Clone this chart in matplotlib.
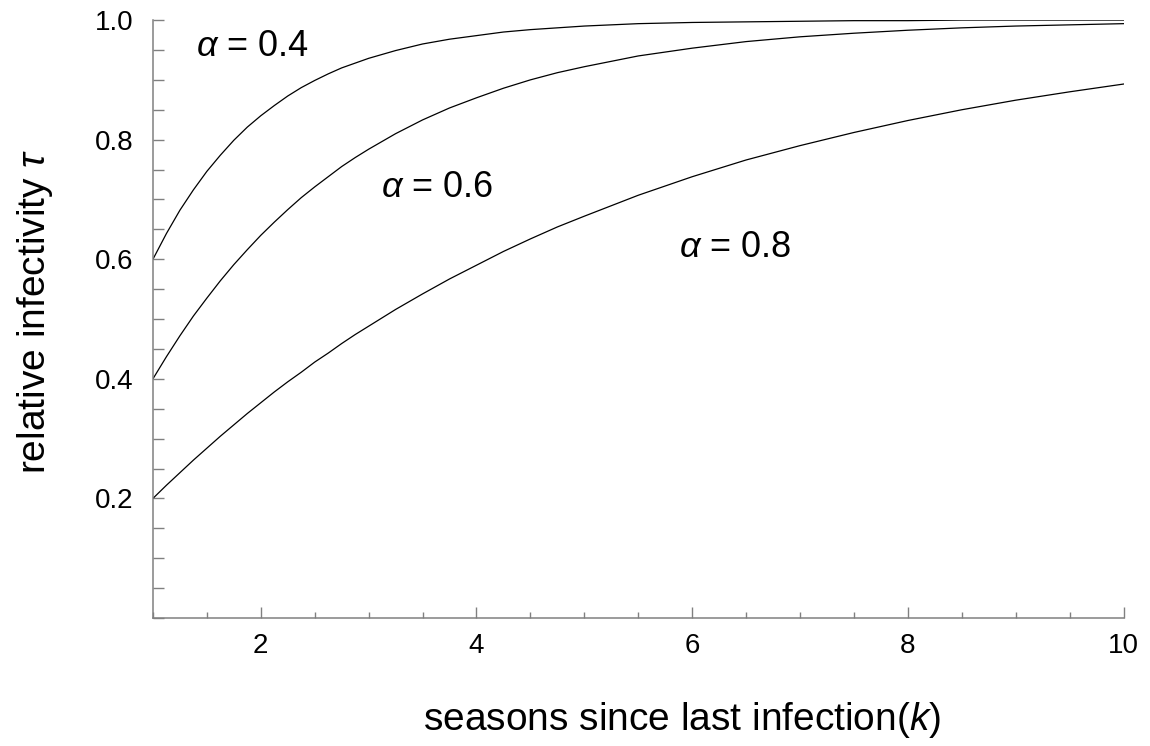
import numpy as np
import matplotlib.pyplot as plt
from matplotlib.ticker import MultipleLocator

plt.rcParams['font.family'] = ['Liberation Sans', 'DejaVu Sans']
plt.rcParams['mathtext.fontset'] = 'custom'
plt.rcParams['mathtext.rm'] = 'Liberation Sans'
plt.rcParams['mathtext.it'] = 'Liberation Sans:italic'

# seasons since last infection (denser where the curves bend most)
k = [1, 1.125, 1.25, 1.375, 1.5, 1.625, 1.75, 1.875, 2, 2.125, 2.25, 2.375,
     2.5, 2.625, 2.75, 2.875, 3, 3.25, 3.5, 3.75, 4, 4.25, 4.5, 4.75, 5,
     5.5, 6, 6.5, 7, 7.5, 8, 8.5, 9, 9.5, 10]

# relative infectivity for each alpha
tau_04 = [0.600, 0.643, 0.682, 0.716, 0.747, 0.774, 0.799, 0.821, 0.840,
          0.857, 0.873, 0.887, 0.899, 0.910, 0.920, 0.928, 0.936, 0.949,
          0.960, 0.968, 0.974, 0.980, 0.984, 0.987, 0.990, 0.994, 0.996,
          0.997, 0.998, 0.999, 0.999, 1.000, 1.000, 1.000, 1.000]
tau_06 = [0.400, 0.437, 0.472, 0.505, 0.535, 0.564, 0.591, 0.616, 0.640,
          0.662, 0.683, 0.703, 0.721, 0.738, 0.755, 0.770, 0.784, 0.810,
          0.833, 0.853, 0.870, 0.886, 0.900, 0.912, 0.922, 0.940, 0.953,
          0.964, 0.972, 0.978, 0.983, 0.987, 0.990, 0.992, 0.994]
tau_08 = [0.200, 0.222, 0.243, 0.264, 0.284, 0.304, 0.323, 0.342, 0.360,
          0.378, 0.395, 0.411, 0.428, 0.443, 0.459, 0.474, 0.488, 0.516,
          0.542, 0.567, 0.590, 0.613, 0.634, 0.654, 0.672, 0.707, 0.738,
          0.766, 0.790, 0.812, 0.832, 0.850, 0.866, 0.880, 0.893]

fig = plt.figure(figsize=(11.5, 7.46), dpi=100)
ax = fig.add_axes([0.133, 0.1716, 0.844, 0.8015])

for tau in (tau_04, tau_06, tau_08):
    ax.plot(k, tau, color='black', lw=0.9)

ax.text(1.92, 0.955, r'$\alpha$ = 0.4', fontsize=26, ha='center', va='center')
ax.text(3.64, 0.72, r'$\alpha$ = 0.6', fontsize=26, ha='center', va='center')
ax.text(6.40, 0.62, r'$\alpha$ = 0.8', fontsize=26, ha='center', va='center')

ax.set_xlim(1, 10)
ax.set_ylim(0, 1.0)
ax.set_xticks([2, 4, 6, 8, 10])
ax.xaxis.set_minor_locator(MultipleLocator(0.5))
ax.set_yticks([0, 0.2, 0.4, 0.6, 0.8, 1.0])
ax.set_yticklabels(['', '0.2', '0.4', '0.6', '0.8', '1.0'])
ax.yaxis.set_minor_locator(MultipleLocator(0.05))

for s in ('top', 'right'):
    ax.spines[s].set_visible(False)
for s in ('left', 'bottom'):
    ax.spines[s].set_color('#808080')
    ax.spines[s].set_linewidth(1.1)

ax.tick_params(axis='both', which='both', direction='in', color='#808080',
               width=1.0, labelsize=20)
ax.tick_params(axis='x', which='major', length=8, pad=11)
ax.tick_params(axis='x', which='minor', length=4)
ax.tick_params(axis='y', which='both', length=8, pad=14)
# dark tick at the origin
ax.yaxis.get_major_ticks()[0].tick1line.set_color('black')

ax.set_xlabel('seasons since last infection($k$)', fontsize=28, va='center')
ax.xaxis.set_label_coords(0.545, -0.171)
ax.set_ylabel(r'relative infectivity $\tau$', fontsize=28, va='center')
ax.yaxis.set_label_coords(-0.1215, 0.513)

plt.savefig('out.png', dpi=100)
